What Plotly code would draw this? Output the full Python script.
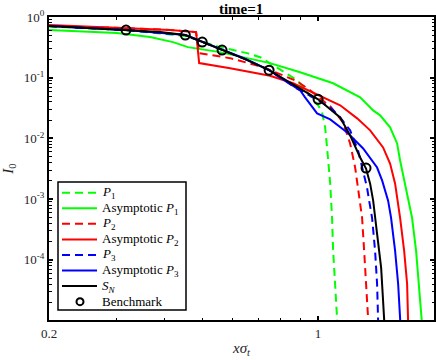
"""I_0 profiles at time=1: P_N, asymptotic P_N, S_N and benchmark (log-log)"""
import plotly.graph_objects as go

FONT = "Liberation Serif"

# P1 (green dashed)
p1_x = [0.2, 0.317, 0.452, 0.515, 0.556, 0.654, 0.707, 0.764, 0.882, 0.953, 1.0,
        1.024, 1.043, 1.055, 1.075, 1.087, 1.094, 1.107, 1.121, 1.127]
p1_y = [0.70, 0.61, 0.485, 0.372, 0.319, 0.254, 0.218, 0.161, 0.091, 0.0514, 0.0351,
        0.0269, 0.0152, 0.0071, 0.0018, 4.94e-4, 1.41e-4, 4.01e-5, 9.8e-6, 5.5e-6]

# Asymptotic P1 (green solid)
ap1_x = [0.2, 0.3, 0.366, 0.42, 0.459, 0.494, 0.556, 0.75, 0.898, 1.094, 1.286, 1.39,
         1.449, 1.538, 1.604, 1.633, 1.682, 1.754, 1.797, 1.829, 1.862, 1.873]
ap1_y = [0.61, 0.544, 0.467, 0.386, 0.319, 0.296, 0.264, 0.174, 0.123, 0.0811, 0.0476,
         0.029, 0.024, 0.0152, 0.00827, 0.00433, 0.0018, 4.94e-4, 1.41e-4, 4.01e-5,
         9.8e-6, 5.5e-6]

# P2 (red dashed)
p2_x = [0.2, 0.317, 0.413, 0.482, 0.491, 0.591, 0.72, 0.797, 0.882, 0.953, 1.075,
        1.161, 1.211, 1.248, 1.27, 1.301, 1.317, 1.332, 1.349, 1.357]
p2_y = [0.71, 0.658, 0.61, 0.565, 0.254, 0.21, 0.149, 0.114, 0.0875, 0.0621, 0.0338,
        0.0184, 0.00827, 0.00332, 0.00155, 4.94e-4, 1.41e-4, 4.01e-5, 9.8e-6, 5.5e-6]

# Asymptotic P2 (red solid)
ap2_x = [0.2, 0.317, 0.413, 0.482, 0.491, 0.591, 0.75, 0.861, 1.141, 1.263, 1.365,
         1.475, 1.538, 1.585, 1.633, 1.673, 1.703, 1.713, 1.723]
ap2_y = [0.738, 0.658, 0.61, 0.565, 0.174, 0.1436, 0.108, 0.0811, 0.0351, 0.0214,
         0.0136, 0.0071, 0.00386, 0.0018, 4.94e-4, 1.41e-4, 4.01e-5, 9.8e-6, 5.5e-6]

# P3 (blue dashed)
p3_x = [0.2, 0.317, 0.452, 0.5, 0.563, 0.646, 0.746, 0.861, 1.0, 1.075, 1.141, 1.211,
        1.27, 1.309, 1.34, 1.357, 1.381, 1.406, 1.423, 1.432, 1.44]
p3_y = [0.71, 0.61, 0.504, 0.386, 0.285, 0.202, 0.133, 0.0724, 0.0425, 0.0325, 0.0222,
        0.0136, 0.00634, 0.00296, 0.00155, 9.44e-4, 4.94e-4, 1.41e-4, 4.01e-5, 9.8e-6,
        5.5e-6]

# Asymptotic P3 (blue solid)
ap3_x = [0.2, 0.317, 0.452, 0.5, 0.563, 0.646, 0.746, 0.811, 0.898, 0.925, 0.965,
         0.994, 1.075, 1.19, 1.309, 1.423, 1.467, 1.52, 1.547, 1.585, 1.614, 1.633, 1.643]
ap3_y = [0.71, 0.61, 0.504, 0.39, 0.29, 0.205, 0.133, 0.0944, 0.0621, 0.0476, 0.0325,
         0.0259, 0.0206, 0.01257, 0.00684, 0.00332, 0.00202, 9.44e-4, 4.94e-4, 1.41e-4,
         4.01e-5, 9.8e-6, 5.5e-6]

# S_N (black solid)
sn_x = [0.2, 0.256, 0.317, 0.389, 0.452, 0.5, 0.563, 0.646, 0.746, 0.861, 1.0, 1.141,
        1.211, 1.286, 1.332, 1.365, 1.39, 1.423, 1.458, 1.475, 1.484, 1.493]
sn_y = [0.71, 0.658, 0.61, 0.565, 0.504, 0.386, 0.285, 0.202, 0.133, 0.078, 0.0441,
        0.0222, 0.0112, 0.00485, 0.00319, 0.0018, 9.44e-4, 2.69e-4, 7.38e-5, 2.1e-5,
        9.8e-6, 5.5e-6]

# Benchmark (open circles)
bench_x = [0.317, 0.452, 0.5, 0.563, 0.746, 1.0, 1.332]
bench_y = [0.61, 0.504, 0.386, 0.285, 0.133, 0.0441, 0.00325]

x_tickvals = [0.2, 1]
x_ticktext = ["0.2", "1"]
y_tickvals = [1e-4, 1e-3, 1e-2, 1e-1, 1]
y_ticktext = ["10<sup>-4</sup>", "10<sup>-3</sup>", "10<sup>-2</sup>",
              "10<sup>-1</sup>", "10<sup>0</sup>"]

W, H = 436, 360
ML, MR, MT, MB = 49, 2, 17, 40
DASH = "8px,5px"
TICK_COLOR = "#262626"

series = [
    ("<i>P</i><sub>1</sub>", p1_x, p1_y, "#00ff00", DASH),
    ("Asymptotic <i>P</i><sub>1</sub>", ap1_x, ap1_y, "#00ff00", "solid"),
    ("<i>P</i><sub>2</sub>", p2_x, p2_y, "#ff0000", DASH),
    ("Asymptotic <i>P</i><sub>2</sub>", ap2_x, ap2_y, "#ff0000", "solid"),
    ("<i>P</i><sub>3</sub>", p3_x, p3_y, "#0000ff", DASH),
    ("Asymptotic <i>P</i><sub>3</sub>", ap3_x, ap3_y, "#0000ff", "solid"),
    ("<i>S</i><sub><i>N</i></sub>", sn_x, sn_y, "black", "solid"),
]


def px_x(px):
    """pixel column -> paper x"""
    return (px - ML) / (W - ML - MR)


def px_y(py):
    """pixel row -> paper y"""
    return (H - MB - py) / (H - MT - MB)


fig = go.Figure()
for name, xs, ys, color, dash in series:
    fig.add_trace(
        go.Scatter(
            x=xs, y=ys, mode="lines", name=name,
            line={"color": color, "width": 2, "dash": dash},
        )
    )
fig.add_trace(
    go.Scatter(
        x=bench_x, y=bench_y, mode="markers", name="Benchmark",
        marker={"symbol": "circle-open", "size": 9, "color": "black",
                "line": {"width": 2, "color": "black"}},
    )
)

# hand-made compact legend (plotly's own legend rows are too tall)
shapes = [
    {"type": "rect", "xref": "paper", "yref": "paper",
     "x0": px_x(58), "x1": px_x(186), "y0": px_y(182), "y1": px_y(310),
     "line": {"color": "black", "width": 1.5}, "fillcolor": "white"}
]
annotations = []
row0, row_step = 192.7, 15.57
for i, (name, _, _, color, dash) in enumerate(series):
    yy = px_y(row0 + i * row_step)
    shapes.append(
        {"type": "line", "xref": "paper", "yref": "paper",
         "x0": px_x(62), "x1": px_x(97), "y0": yy, "y1": yy,
         "line": {"color": color, "width": 2, "dash": dash}}
    )
    annotations.append(
        {"xref": "paper", "yref": "paper", "x": px_x(100), "y": yy,
         "xanchor": "left", "yanchor": "middle", "showarrow": False,
         "text": name, "font": {"family": FONT, "size": 13, "color": "black"}}
    )
yb = px_y(row0 + 7 * row_step)
shapes.append(
    {"type": "circle", "xref": "paper", "yref": "paper",
     "xsizemode": "pixel", "ysizemode": "pixel",
     "xanchor": px_x(80), "yanchor": yb, "x0": -3.5, "x1": 3.5, "y0": -3.5, "y1": 3.5,
     "line": {"color": "black", "width": 2}}
)
annotations.append(
    {"xref": "paper", "yref": "paper", "x": px_x(100), "y": yb,
     "xanchor": "left", "yanchor": "middle", "showarrow": False,
     "text": "Benchmark", "font": {"family": FONT, "size": 13, "color": "black"}}
)

axis_common = {
    "type": "log",
    "automargin": False,
    "showgrid": False,
    "zeroline": False,
    "showline": True,
    "linecolor": "black",
    "linewidth": 2,
    "mirror": "ticks",
    "ticks": "inside",
    "ticklen": 4,
    "tickwidth": 1.5,
    "tickcolor": "black",
    "tickmode": "array",
    "tickfont": {"family": FONT, "size": 13, "color": TICK_COLOR},
    "minor": {"ticks": "inside", "ticklen": 2.5, "tickwidth": 1.2,
              "tickcolor": "black", "dtick": "D1", "showgrid": False},
}

fig.update_xaxes(
    **axis_common,
    range=[-0.69897, 0.30103],
    tickvals=x_tickvals,
    ticktext=x_ticktext,
    title={"text": "<i>xσ</i><sub><i>t</i></sub>", "standoff": 3,
           "font": {"family": FONT, "size": 15, "color": TICK_COLOR}},
)
fig.update_yaxes(
    **axis_common,
    range=[-4.99, 0],
    tickvals=y_tickvals,
    ticktext=y_ticktext,
    title={"text": "<i>I</i><sub>0</sub>", "standoff": 8,
           "font": {"family": FONT, "size": 15, "color": TICK_COLOR}},
)

fig.update_layout(
    width=W,
    height=H,
    margin={"l": ML, "r": MR, "t": MT, "b": MB, "autoexpand": False},
    paper_bgcolor="white",
    plot_bgcolor="white",
    title={"text": "<b>time=1</b>", "x": 0.553, "xanchor": "center",
           "y": 0.977, "yanchor": "middle", "automargin": False,
           "font": {"family": FONT, "size": 15, "color": "black"}},
    showlegend=False,
    shapes=shapes,
    annotations=annotations,
)

# drop the browser's default 8px page margin so the figure fills the window
fig.write_html(
    "out.html",
    config={"displayModeBar": False},
    post_script="document.body.style.margin = '0';",
)
